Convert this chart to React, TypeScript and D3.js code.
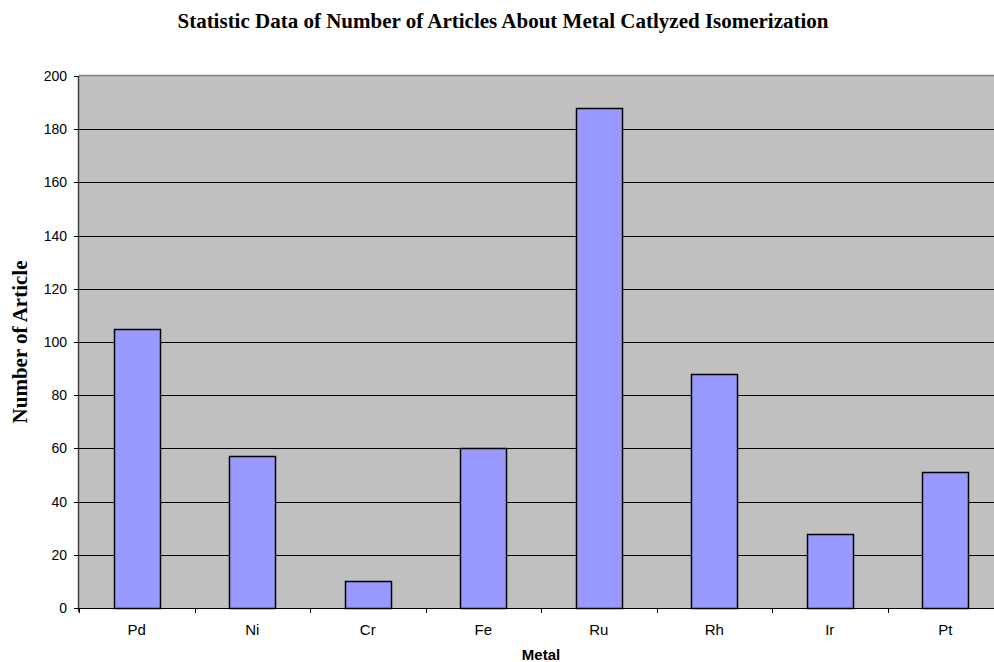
import { scaleBand, scaleLinear, range } from "d3";

const metals = ["Pd", "Ni", "Cr", "Fe", "Ru", "Rh", "Ir", "Pt"];
const articles = [105, 57, 10, 60, 188, 88, 28, 51];
const yTicks = [0, 20, 40, 60, 80, 100, 120, 140, 160, 180, 200];

const W = 994;
const H = 662;
const plot = { left: 79, right: 1003, top: 76, bottom: 608 };

export default function App() {
  const x = scaleBand<string>()
    .domain(metals)
    .range([plot.left, plot.right])
    .paddingInner(0.6)
    .paddingOuter(0.3);
  const band = scaleBand<string>().domain(metals).range([plot.left, plot.right]);
  const y = scaleLinear().domain([0, 200]).range([plot.bottom, plot.top]);

  const sans = "'Liberation Sans', Arial, sans-serif";
  const serif = "'Liberation Serif', 'Times New Roman', serif";

  return (
    <svg
      width={W}
      height={H}
      style={{ position: "absolute", left: 0, top: 0, background: "#fff" }}
    >
      <text
        x={503}
        y={28}
        textAnchor="middle"
        fontFamily={serif}
        fontWeight="bold"
        fontSize={21}
      >
        Statistic Data of Number of Articles About Metal Catlyzed Isomerization
      </text>

      {/* plot area */}
      <rect
        x={plot.left}
        y={plot.top}
        width={plot.right - plot.left}
        height={plot.bottom - plot.top}
        fill="#C0C0C0"
      />
      {/* grid lines */}
      {yTicks.slice(1, -1).map((t) => (
        <line
          key={t}
          x1={plot.left}
          x2={plot.right}
          y1={Math.round(y(t)) + 0.5}
          y2={Math.round(y(t)) + 0.5}
          stroke="#000"
          strokeWidth={1}
        />
      ))}
      <line
        x1={plot.left}
        x2={plot.right}
        y1={plot.top - 0.5}
        y2={plot.top - 0.5}
        stroke="#808080"
        strokeWidth={1.5}
      />

      {/* bars */}
      {metals.map((m, i) => (
        <rect
          key={m}
          x={Math.round(x(m)!) + 0.5}
          y={Math.round(y(articles[i])) + 0.5}
          width={Math.round(x.bandwidth())}
          height={Math.round(y(0)) - Math.round(y(articles[i]))}
          fill="#9999FF"
          stroke="#000"
          strokeWidth={1.5}
        />
      ))}

      {/* y axis */}
      <line
        x1={plot.left - 0.5}
        x2={plot.left - 0.5}
        y1={plot.top}
        y2={plot.bottom + 4}
        stroke="#404040"
        strokeWidth={1.5}
      />
      {yTicks.map((t) => (
        <g key={t} transform={`translate(0,${Math.round(y(t)) + 0.5})`}>
          <line x1={plot.left - 5} x2={plot.left} stroke="#000" />
          <text
            x={plot.left - 12}
            dy="0.35em"
            textAnchor="end"
            fontFamily={sans}
            fontSize={14}
          >
            {t}
          </text>
        </g>
      ))}

      {/* x axis */}
      <line
        x1={plot.left}
        x2={plot.right}
        y1={plot.bottom + 0.5}
        y2={plot.bottom + 0.5}
        stroke="#000"
        strokeWidth={1}
      />
      {range(metals.length + 1).map((i) => {
        const px = Math.round(plot.left + i * band.bandwidth()) + 0.5;
        return (
          <line
            key={i}
            x1={px}
            x2={px}
            y1={plot.bottom}
            y2={plot.bottom + 5}
            stroke="#000"
          />
        );
      })}
      {metals.map((m) => (
        <text
          key={m}
          x={band(m)! + band.bandwidth() / 2}
          y={635}
          textAnchor="middle"
          fontFamily={sans}
          fontSize={15}
        >
          {m}
        </text>
      ))}

      <text
        x={(plot.left + plot.right) / 2}
        y={660}
        textAnchor="middle"
        fontFamily={sans}
        fontWeight="bold"
        fontSize={15}
      >
        Metal
      </text>
      <text
        transform={`translate(27,${(plot.top + plot.bottom) / 2}) rotate(-90)`}
        textAnchor="middle"
        fontFamily={serif}
        fontWeight="bold"
        fontSize={21}
      >
        Number of Article
      </text>
    </svg>
  );
}
